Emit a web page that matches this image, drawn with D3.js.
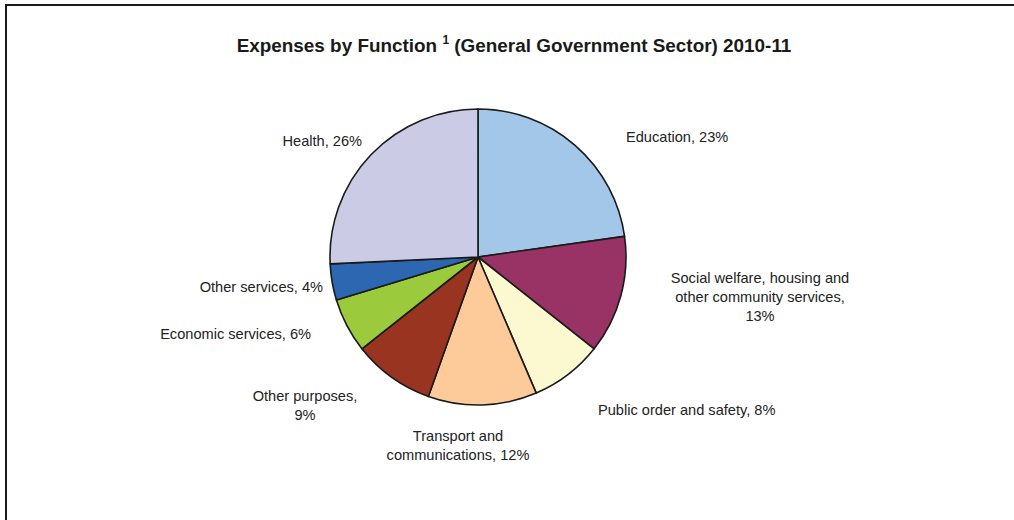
<!DOCTYPE html>
<html>
<head>
<meta charset="utf-8">
<script src="https://cdn.jsdelivr.net/npm/d3@7"></script>
<style>
  html, body { margin: 0; padding: 0; background: #fff; }
  svg { display: block; }
</style>
</head>
<body>
<svg id="chart" width="1014" height="520"></svg>
<script>
// Expense categories, clockwise from 12 o'clock
const categories = [
  "Education",
  "Social welfare, housing and other community services",
  "Public order and safety",
  "Transport and communications",
  "Other purposes",
  "Economic services",
  "Other services",
  "Health"
];
// Share of total expenses (%)
const shares = [23, 13, 8, 12, 9, 6, 4, 26];
// Slice fills
const fills = ["#a2c7e9", "#993366", "#fcf8cf", "#fccb99", "#993420", "#9bcb3c", "#2d66b1", "#cccbe6"];
// Label text lines
const labelLines = [
  ["Education, 23%"],
  ["Social welfare, housing and", "other community services,", "13%"],
  ["Public order and safety, 8%"],
  ["Transport and", "communications, 12%"],
  ["Other purposes,", "9%"],
  ["Economic services, 6%"],
  ["Other services, 4%"],
  ["Health, 26%"]
];

// Label placement (anchor, x, first baseline)
const labelLayout = [
  { anchor: "start",  x: 626, y: 142 },
  { anchor: "middle", x: 760, y: 283 },
  { anchor: "start",  x: 598, y: 415 },
  { anchor: "middle", x: 458, y: 441 },
  { anchor: "middle", x: 305, y: 401 },
  { anchor: "end",    x: 311, y: 339 },
  { anchor: "end",    x: 323, y: 292 },
  { anchor: "end",    x: 362, y: 146 }
];

const svg = d3.select("#chart");
const font = "'Liberation Sans', Arial, sans-serif";

// Frame (top and left edges)
svg.append("path")
  .attr("d", "M6,520 V5 H1014")
  .attr("fill", "none")
  .attr("stroke", "#1a1a1a")
  .attr("stroke-width", 2);

// Title
const title = svg.append("text")
  .attr("x", 514).attr("y", 52)
  .attr("text-anchor", "middle")
  .attr("font-family", font)
  .attr("font-weight", "bold")
  .attr("font-size", 18.9)
  .attr("fill", "#1a1a1a");
title.append("tspan").text("Expenses by Function ");
title.append("tspan").attr("font-size", 12).attr("dy", -8).text("1");
title.append("tspan").attr("dy", 8).text(" (General Government Sector) 2010-11");

// Pie
const cx = 478, cy = 257, radius = 148;
const data = categories.map((c, i) => ({ name: c, value: shares[i], fill: fills[i] }));
const pie = d3.pie().value(d => d.value).sort(null);
const arc = d3.arc().innerRadius(0).outerRadius(radius);

const g = svg.append("g").attr("transform", `translate(${cx},${cy})`);
g.selectAll("path.slice")
  .data(pie(data))
  .join("path")
  .attr("class", "slice")
  .attr("d", arc)
  .attr("fill", d => d.data.fill)
  .attr("stroke", "#1a1a1a")
  .attr("stroke-width", 1.6)
  .attr("stroke-linejoin", "round");

// Labels
const labels = svg.selectAll("text.label")
  .data(labelLines)
  .join("text")
  .attr("class", "label")
  .attr("font-family", font)
  .attr("font-size", 14.6)
  .attr("fill", "#222")
  .attr("text-anchor", (d, i) => labelLayout[i].anchor)
  .attr("x", (d, i) => labelLayout[i].x)
  .attr("y", (d, i) => labelLayout[i].y);
labels.each(function (lines, i) {
  const t = d3.select(this);
  lines.forEach((line, j) => {
    t.append("tspan")
      .attr("x", labelLayout[i].x)
      .attr("dy", j === 0 ? 0 : 19)
      .text(line);
  });
});
</script>
</body>
</html>
